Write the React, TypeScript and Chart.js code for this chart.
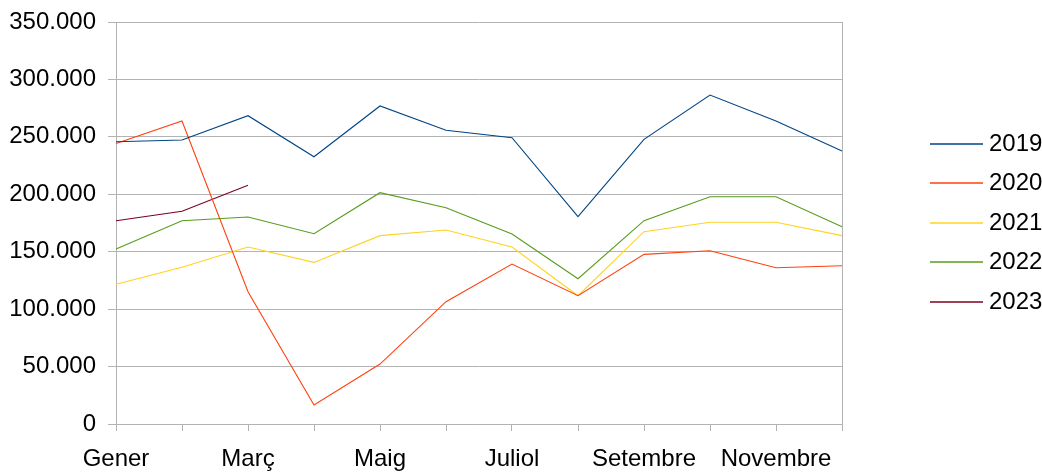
import React, { useEffect, useRef } from "react";
import { Chart, registerables } from "chart.js";

Chart.register(...registerables);

const months = [
  "Gener", "Febrer", "Març", "Abril", "Maig", "Juny",
  "Juliol", "Agost", "Setembre", "Octubre", "Novembre", "Desembre",
];

const s2019 = [245800, 247300, 268400, 232700, 276900, 255700, 249300, 180500, 247800, 286400, 263800, 237700];
const s2020 = [244300, 263800, 115200, 16500, 52200, 106500, 139300, 111700, 147700, 150900, 136100, 137800];
const s2021 = [121600, 136400, 154100, 140700, 164000, 168900, 154100, 111700, 167400, 175600, 175600, 164000];
const s2022 = [152400, 177000, 180200, 165700, 201400, 188300, 165400, 126500, 177000, 197900, 197900, 171800];
const s2023 = [177000, 185200, 207800];

const seriesNames = ["2019", "2020", "2021", "2022", "2023"];
const seriesColors = ["#004586", "#ff420e", "#ffd320", "#579d1c", "#7e0021"];
const seriesData = [s2019, s2020, s2021, s2022, s2023];

const yTicksMax = 350000;
const yTicksStep = 50000;

const FONT = "'Liberation Sans', Arial, sans-serif";
const GRID = "#b3b3b3";

function fmt(v: number): string {
  return String(Math.round(v)).replace(/\B(?=(\d{3})+(?!\d))/g, ".");
}

const legendPlugin = {
  id: "sideLegend",
  afterDraw(chart: any) {
    const ctx = chart.ctx;
    const area = chart.chartArea;
    const n = seriesNames.length;
    const spacing = 39.5;
    const midY = 222.7;
    const startY = midY - ((n - 1) * spacing) / 2;
    const lineX0 = area.right + 88;
    const lineX1 = lineX0 + 53;
    ctx.save();
    ctx.font = `24px ${FONT}`;
    ctx.textBaseline = "middle";
    ctx.textAlign = "left";
    for (let i = 0; i < n; i++) {
      const y = Math.round(startY + i * spacing);
      ctx.strokeStyle = seriesColors[i];
      ctx.lineWidth = 1.4;
      ctx.beginPath();
      ctx.moveTo(lineX0, y);
      ctx.lineTo(lineX1, y);
      ctx.stroke();
      ctx.fillStyle = "#000000";
      ctx.fillText(seriesNames[i], lineX1 + 6, y);
    }
    ctx.restore();
  },
};

export default function App() {
  const ref = useRef<HTMLCanvasElement | null>(null);

  useEffect(() => {
    if (!ref.current) return;
    const chart = new Chart(ref.current, {
      type: "line",
      data: {
        labels: months,
        datasets: seriesData.map((d, i) => ({
          label: seriesNames[i],
          data: d,
          borderColor: seriesColors[i],
          backgroundColor: seriesColors[i],
          borderWidth: 1.1,
          pointRadius: 0,
          pointHoverRadius: 0,
          tension: 0,
          fill: false,
        })),
      },
      options: {
        responsive: false,
        animation: false,
        layout: { padding: { top: 22, right: 200, left: 0, bottom: 0 } },
        plugins: {
          legend: { display: false },
          tooltip: { enabled: false },
        },
        scales: {
          x: {
            offset: false,
            grid: {
              display: true,
              drawOnChartArea: true,
              drawTicks: true,
              tickLength: 7,
              color: (c: any) => (c.index === months.length - 1 ? GRID : "rgba(0,0,0,0)"),
              tickColor: GRID,
              lineWidth: 1,
            },
            border: { display: true, color: GRID },
            ticks: {
              autoSkip: false,
              maxRotation: 0,
              minRotation: 0,
              padding: 14,
              color: "#000000",
              font: { family: FONT, size: 24 },
              callback: (_v: any, i: number) => (i % 2 === 0 ? months[i] : ""),
            },
            afterFit: (scale: any) => {
              scale.height = 49;
              scale.paddingLeft = 0;
              scale.paddingRight = 0;
            },
          },
          y: {
            min: 0,
            max: yTicksMax,
            grid: {
              color: GRID,
              tickColor: GRID,
              drawTicks: true,
              tickLength: 8,
              lineWidth: 1,
            },
            border: { display: true, color: GRID },
            ticks: {
              stepSize: yTicksStep,
              padding: 12,
              color: "#000000",
              font: { family: FONT, size: 24 },
              callback: (v: any) => fmt(Number(v)),
            },
            afterFit: (scale: any) => {
              scale.width = 116;
              scale.paddingTop = 0;
              scale.paddingBottom = 0;
            },
          },
        },
      },
      plugins: [legendPlugin],
    });
    return () => chart.destroy();
  }, []);

  return (
    <div style={{ position: "absolute", left: 0, top: 0, width: 1042, height: 473, background: "#ffffff" }}>
      <canvas ref={ref} width={1042} height={473} style={{ display: "block" }} />
    </div>
  );
}
